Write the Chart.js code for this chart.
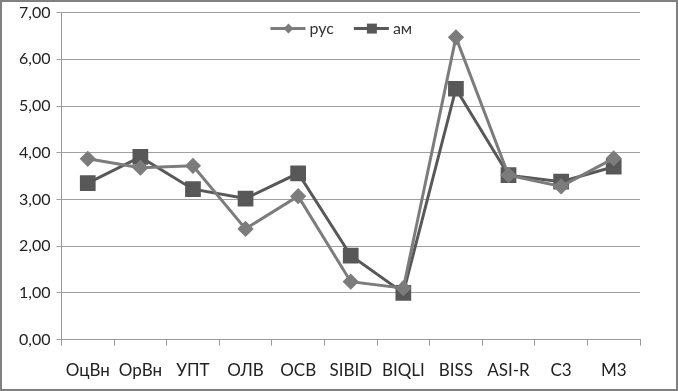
<!DOCTYPE html>
<html>
<head>
<meta charset="utf-8">
<script src="https://cdn.jsdelivr.net/npm/chart.js@4/dist/chart.umd.min.js"></script>
<style>
  html, body { margin: 0; padding: 0; background: #fff; }
  #wrap {
    width: 678px; height: 391px; box-sizing: border-box; overflow: hidden;
    border: 2px solid #808080; background: #fff;
  }
  #scaleChart { display: block; margin-top: -5px; }
</style>
</head>
<body>
<div id="wrap"><canvas id="scaleChart" width="674" height="400"></canvas></div>
<script>
const categories = ['ОцВн', 'ОрВн', 'УПТ', 'ОЛВ', 'ОСВ', 'SIBID', 'BIQLI', 'BISS', 'ASI-R', 'С3', 'М3'];
const rusValues = [3.87, 3.68, 3.72, 2.37, 3.07, 1.24, 1.10, 6.47, 3.52, 3.28, 3.88];
const amValues  = [3.35, 3.91, 3.22, 3.02, 3.56, 1.80, 1.00, 5.37, 3.52, 3.38, 3.70];
const seriesNames = ['рус', 'ам'];

const rusColor = '#7c7c7c';
const amColor = '#585858';

// legend drawn inside the plot, near the top, like the excel original
const innerLegend = {
    id: 'innerLegend',
    afterDatasetsDraw(chart) {
        const g = chart.ctx;
        const area = chart.chartArea;
        const y = area.top + 16;
        g.save();
        g.font = '16px Lato';
        g.textBaseline = 'middle';
        let x = area.left + 209;
        chart.data.datasets.forEach(function(ds, i) {
            g.strokeStyle = ds.borderColor;
            g.fillStyle = ds.borderColor;
            g.lineWidth = 3;
            g.beginPath(); g.moveTo(x, y); g.lineTo(x + 35, y); g.stroke();
            const cx = x + 18;
            g.beginPath();
            if (i === 0) {
                g.moveTo(cx, y - 5); g.lineTo(cx + 5, y); g.lineTo(cx, y + 5); g.lineTo(cx - 5, y);
            } else {
                g.rect(cx - 5, y - 5, 10, 10);
            }
            g.closePath(); g.fill();
            g.fillStyle = '#333';
            g.fillText(ds.label, x + 39, y);
            x += 39 + g.measureText(ds.label).width + 20;
        });
        g.restore();
    }
};

const data = {
    labels: categories,
    datasets: [{
        label: seriesNames[0],
        data: rusValues,
        borderColor: rusColor,
        backgroundColor: rusColor,
        borderWidth: 3,
        pointStyle: 'rectRot',
        pointRadius: 6,
        pointHoverRadius: 6
    }, {
        label: seriesNames[1],
        data: amValues,
        borderColor: amColor,
        backgroundColor: amColor,
        borderWidth: 3,
        pointStyle: 'rect',
        pointRadius: 9,
        pointHoverRadius: 9
    }]
};

const config = {
    type: 'line',
    data: data,
    options: {
        responsive: false,
        animation: false,
        layout: { padding: { top: 0, right: 36, left: 11, bottom: 1 } },
        plugins: {
            tooltip: { enabled: false },
            legend: { display: false }
        },
        scales: {
            x: {
                offset: true,
                grid: { display: true, drawOnChartArea: false, drawTicks: true, tickLength: 6, offset: true, color: '#9a9a9a' },
                border: { color: '#9a9a9a' },
                ticks: { color: '#222', font: { family: 'Lato', size: 17 }, padding: 15, maxRotation: 0, autoSkip: false }
            },
            y: {
                min: 0,
                max: 7,
                grid: { color: '#a0a0a0', tickLength: 5 },
                border: { color: '#9a9a9a' },
                ticks: {
                    stepSize: 1,
                    color: '#222',
                    font: { family: 'Lato', size: 16 },
                    padding: 6,
                    callback: function(v) { return v.toFixed(2).replace('.', ','); }
                }
            }
        }
    },
    plugins: [innerLegend]
};

window.onload = function() {
    const ctx = document.getElementById('scaleChart').getContext('2d');
    new Chart(ctx, config);
};
</script>
</body>
</html>
